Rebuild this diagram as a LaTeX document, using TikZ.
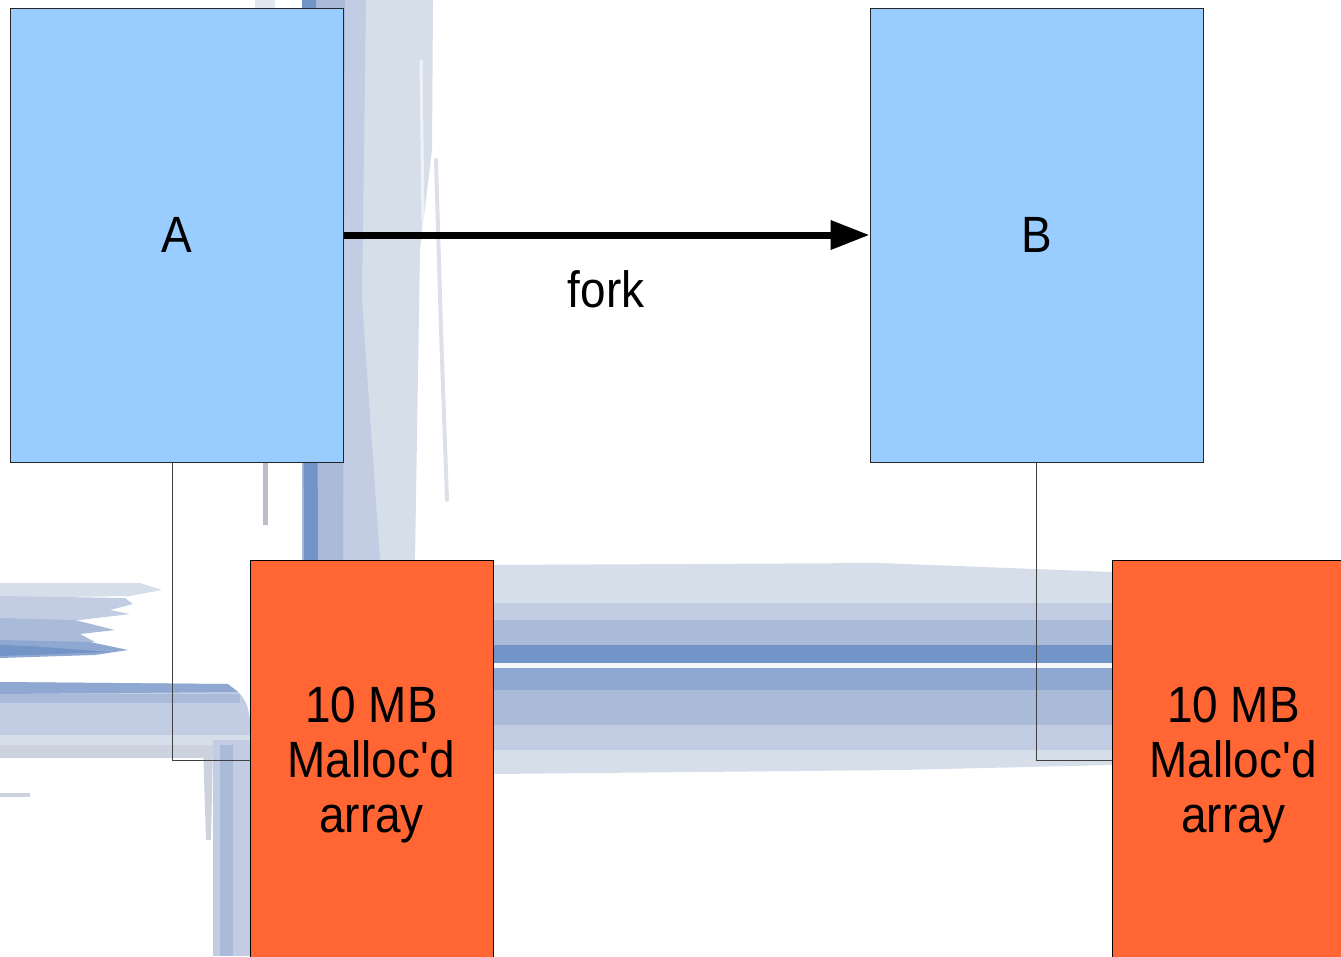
\documentclass[tikz,border=0pt]{standalone}
\usepackage{fontspec}
\setmainfont{Liberation Sans}[FakeStretch=0.9]
\usetikzlibrary{arrows.meta}
\definecolor{boxblue}{HTML}{99CCFF}
\definecolor{boxorange}{HTML}{FF6633}
\definecolor{brushA}{HTML}{D6DEEA}
\definecolor{brushB}{HTML}{C2CDE3}
\definecolor{brushC}{HTML}{AABBD9}
\definecolor{brushD}{HTML}{7394C6}
\definecolor{brushE}{HTML}{8FA8D1}
\definecolor{brushG}{HTML}{CDD3DE}
\begin{document}
\begin{tikzpicture}[x=1pt,y=-1pt,
  procbox/.style={draw=black!85, line width=1pt, fill=boxblue,
    minimum width=333pt, minimum height=454pt, inner sep=0pt},
  membox/.style={draw=black, line width=1pt, fill=boxorange,
    minimum width=243pt, minimum height=400pt, inner sep=0pt},
  lab/.style={font=\fontsize{51}{55}\selectfont, align=center, inner sep=0pt},
  link/.style={draw=black!75, line width=1pt},
  forkarrow/.style={line width=7pt, -{Triangle[length=39pt,width=28pt]}},
]
\useasboundingbox (0,0) rectangle (1341,956);
\clip (0,0) rectangle (1341,956);

% --- brush-stroke backdrop ---
% vertical stroke behind process A
\fill[brushA] (302,0) -- (433,0) -- (432,150) -- (420,250) -- (415,560) -- (302,560) -- cycle;
\fill[brushB] (302,0) -- (366,0) -- (362,300) -- (380,560) -- (302,560) -- cycle;
\fill[brushC] (302,0) -- (345,0) -- (343,560) -- (302,560) -- cycle;
\fill[brushD] (302,0) -- (316,0) -- (318,560) -- (304,560) -- cycle;
\draw[white, opacity=0.6, line width=3pt] (421,60) -- (424,300) -- (421,560);
\draw[brushG!70!white, line width=4pt, line cap=round] (436,160) -- (441,330) -- (447,500);
\draw[brushG!90!black, line width=5pt] (265,462) -- (265,525);
\fill[brushA!70!white] (255,0) rectangle (275,8);

% horizontal stroke between the two memory blocks
\fill[brushA] (493,565) -- (880,563) -- (1112,572) -- (1112,765) -- (900,770) -- (493,774) -- cycle;
\fill[brushB] (493,603) rectangle (1112,620);
\fill[brushC] (493,620) rectangle (1112,645);
\fill[brushD] (493,645) rectangle (1112,663);
\fill[white!80!brushA] (493,663) rectangle (1112,668);
\fill[brushE] (493,668) rectangle (1112,690);
\fill[brushC] (493,690) rectangle (1112,725);
\fill[brushB] (493,725) rectangle (1112,750);

% left-hand strokes
\fill[brushA] (0,583) -- (140,583) -- (162,590) -- (130,596) -- (0,598) -- cycle;
\fill[brushB] (0,596) -- (125,598) -- (133,604) -- (110,610) -- (130,614) -- (80,620) -- (0,620) -- cycle;
\fill[brushC] (0,618) -- (75,620) -- (115,630) -- (80,634) -- (95,642) -- (0,645) -- cycle;
\fill[brushE] (0,640) -- (90,642) -- (128,650) -- (95,655) -- (0,658) -- cycle;
\fill[brushD] (0,645) -- (30,646) -- (110,652) -- (0,656) -- cycle;

\fill[brushB] (0,682) -- (225,684) .. controls (240,690) and (248,700) .. (250,720) -- (250,758) -- (0,758) -- cycle;
\fill[brushE] (0,682) -- (228,684) -- (238,692) -- (0,694) -- cycle;
\fill[brushC] (0,694) rectangle (240,703);
\fill[brushA] (0,735) rectangle (250,745);
\fill[brushG] (0,745) rectangle (250,758);
\fill[brushB] (213,740) rectangle (250,956);
\fill[brushC] (220,745) rectangle (233,956);
\fill[brushG] (203,745) -- (213,745) -- (211,840) -- (206,840) -- cycle;
\fill[brushG] (0,793) rectangle (30,797);

% --- diagram ---
\node[procbox, lab] (A) at (176.5,235) {A};
\node[procbox, lab] (B) at (1036.5,235) {B};
\node[membox] (M1) at (371.5,760) {};
\node[membox] (M2) at (1233.5,760) {};
\node[lab] (M1t) at (371.5,765) {10 MB\\Malloc\textquotesingle d\\array};
\node[lab] (M2t) at (1233.5,765) {10 MB\\Malloc\textquotesingle d\\array};

\draw[link] ([xshift=-4.5pt]A.south) |- (M1.west);
\draw[link] (B.south) |- (M2.west);

\draw[forkarrow] (A.east) -- (B.west);
\node[lab, anchor=base] (fk) at (606,307) {fork};
\end{tikzpicture}
\end{document}
